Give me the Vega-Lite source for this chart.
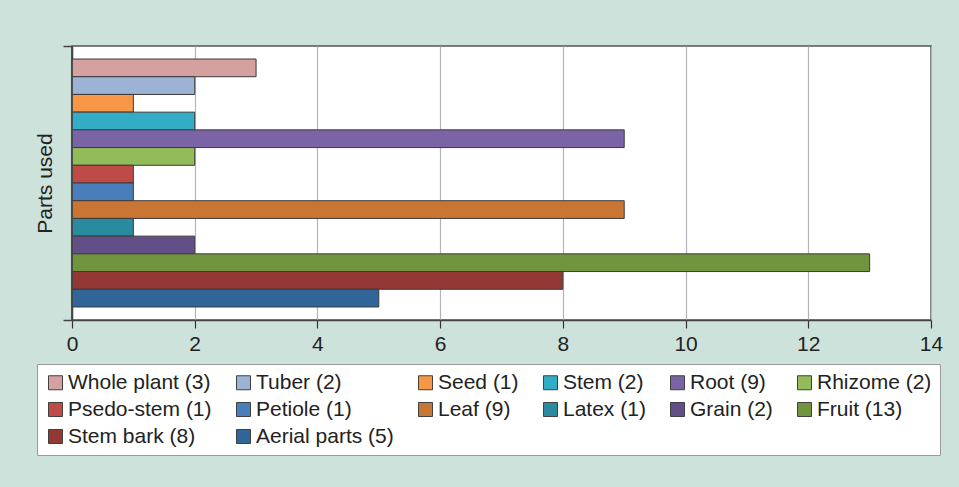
{
  "$schema": "https://vega.github.io/schema/vega-lite/v6.json",
  "width": 859,
  "height": 274,
  "autosize": {"type": "none"},
  "padding": {"left": 72, "top": 46, "right": 28, "bottom": 167},
  "background": "#cee2dc",
  "config": {
    "font": "Liberation Sans",
    "view": {"fill": "white", "stroke": "#555555", "strokeWidth": 1.5}
  },
  "data": {
    "values": [
      {"part": "Whole plant (3)", "count": 3},
      {"part": "Tuber (2)", "count": 2},
      {"part": "Seed (1)", "count": 1},
      {"part": "Stem (2)", "count": 2},
      {"part": "Root (9)", "count": 9},
      {"part": "Rhizome (2)", "count": 2},
      {"part": "Psedo-stem (1)", "count": 1},
      {"part": "Petiole (1)", "count": 1},
      {"part": "Leaf (9)", "count": 9},
      {"part": "Latex (1)", "count": 1},
      {"part": "Grain (2)", "count": 2},
      {"part": "Fruit (13)", "count": 13},
      {"part": "Stem bark (8)", "count": 8},
      {"part": "Aerial parts (5)", "count": 5}
    ]
  },
  "layer": [
    {
      "mark": {"type": "bar", "stroke": "#3a3a3a", "strokeWidth": 1},
      "encoding": {
        "y": {
          "field": "part",
          "type": "nominal",
          "sort": ["Whole plant (3)", "Tuber (2)", "Seed (1)", "Stem (2)", "Root (9)", "Rhizome (2)", "Psedo-stem (1)", "Petiole (1)", "Leaf (9)", "Latex (1)", "Grain (2)", "Fruit (13)", "Stem bark (8)", "Aerial parts (5)"],
          "scale": {"paddingInner": 0, "paddingOuter": 0.735},
          "axis": null
        },
        "x": {
          "field": "count",
          "type": "quantitative",
          "scale": {"domain": [0, 14], "nice": false},
          "axis": {
            "title": null,
            "values": [0, 2, 4, 6, 8, 10, 12, 14],
            "format": "d",
            "grid": true,
            "gridColor": "#b4b4bc",
            "gridWidth": 1.2,
            "domainColor": "#444444",
            "domainWidth": 1.5,
            "tickColor": "#333333",
            "tickSize": 8,
            "tickWidth": 1.2,
            "labelFontSize": 21,
            "labelColor": "#222222",
            "labelPadding": 5,
            "labelFlush": false
          }
        },
        "color": {
          "field": "part",
          "type": "nominal",
          "scale": {
            "domain": ["Whole plant (3)", "Tuber (2)", "Seed (1)", "Stem (2)", "Root (9)", "Rhizome (2)", "Psedo-stem (1)", "Petiole (1)", "Leaf (9)", "Latex (1)", "Grain (2)", "Fruit (13)", "Stem bark (8)", "Aerial parts (5)"],
            "range": ["#d4a0a0", "#9db3d6", "#f79646", "#33acc6", "#7b64a6", "#92bb5a", "#be4b48", "#4a7ebb", "#c97634", "#2a8ba0", "#624f87", "#71953f", "#953735", "#30659a"]
          },
          "legend": {
            "orient": "none",
            "legendX": -35,
            "legendY": 318,
            "direction": "horizontal",
            "columns": 6,
            "title": null,
            "gridAlign": "each",
            "columnPadding": 21,
            "rowPadding": 5,
            "labelFontSize": 21,
            "labelColor": "#222222",
            "labelOffset": 2,
            "labelLimit": 300,
            "symbolType": "square",
            "symbolSize": 196,
            "symbolStrokeColor": "#404040",
            "symbolStrokeWidth": 1,
            "symbolOpacity": 1,
            "fillColor": "white",
            "strokeColor": "#9a9a9a",
            "padding": 8
          }
        }
      }
    },
    {
      "data": {"values": [{}]},
      "mark": {"type": "rule", "color": "#444444", "strokeWidth": 1.5},
      "encoding": {
        "x": {"datum": 0, "type": "quantitative"},
        "y": {
          "datum": 0,
          "type": "quantitative",
          "scale": {"domain": [0, 1], "nice": false},
          "axis": {
            "orient": "left",
            "values": [0, 1],
            "labels": false,
            "grid": false,
            "domain": true,
            "domainColor": "#444444",
            "domainWidth": 1.5,
            "ticks": true,
            "tickSize": 9,
            "tickColor": "#444444",
            "tickWidth": 1.5,
            "title": "Parts used",
            "titleFontSize": 21,
            "titleFontWeight": "normal",
            "titleColor": "#222222",
            "titlePadding": 7
          }
        },
        "y2": {"datum": 1}
      }
    }
  ],
  "resolve": {"scale": {"y": "independent"}}
}
